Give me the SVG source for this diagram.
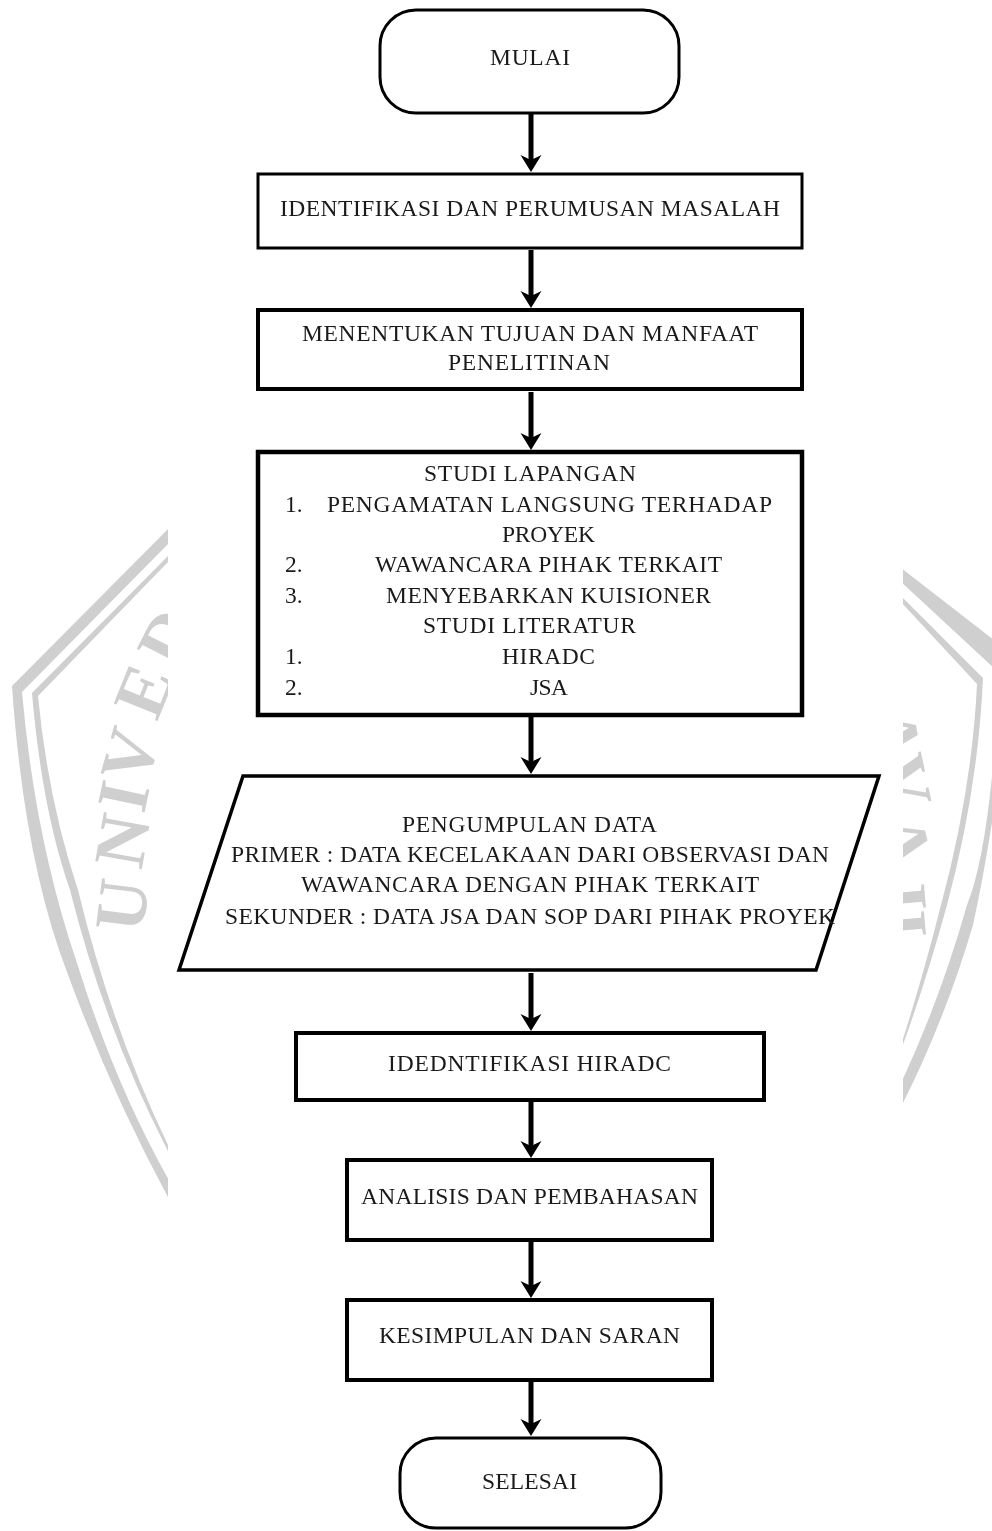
<svg xmlns="http://www.w3.org/2000/svg" width="992" height="1531" viewBox="0 0 992 1531">
<style>
.t{font-family:"Liberation Serif","Times New Roman",serif;font-size:23.5px;fill:#1a1a1a;filter:blur(.3px)}
.n{fill:#fff;stroke:#000}
.w{fill:#cfcfcf;stroke:none}
.wl{font-family:"Liberation Serif",serif;font-size:72px;font-weight:bold;fill:#cfcfcf;text-anchor:middle}
.c{fill:none;stroke:#000;stroke-width:5}
</style>
<defs>
<marker id="a" markerUnits="userSpaceOnUse" markerWidth="20" markerHeight="24" refX="10" refY="12" orient="auto">
<path d="M0 1.5 L17 12 L0 22.5 L5 12 Z" fill="#000"/>
</marker>
<clipPath id="cl"><rect x="0" y="0" width="168" height="1531"/></clipPath>
<clipPath id="cr"><rect x="903" y="0" width="89" height="1531"/></clipPath>
</defs>
<rect width="992" height="1531" fill="#fff"/>
<g id="watermark-left" clip-path="url(#cl)">
<path class="w" d="M170 527 L12 686 Q24 860 67 972 Q110 1090 170 1201 L170 1182 Q115 1085 77 963 Q35 840 22 692 L170 542 Z"/>
<path class="w" d="M170 554 L32 693 Q42 810 70 890 Q105 1030 170 1155 L170 1149 Q112 1030 78 890 Q48 800 38 696 L170 560 Z"/>
<text class="wl" transform="translate(146 908) rotate(-83)">U</text>
<text class="wl" transform="translate(146 845) rotate(-80)">N</text>
<text class="wl" transform="translate(147 801) rotate(-78)">I</text>
<text class="wl" transform="translate(153 762) rotate(-74)">V</text>
<text class="wl" transform="translate(166 700) rotate(-68)">E</text>
<text class="wl" transform="translate(190 648) rotate(-63)">D</text>
</g>
<g id="watermark-right" clip-path="url(#cr)">
<path class="w" d="M901 568 L994 640 L994 668 L901 582 Z"/>
<path class="w" d="M901 596 L983 678 Q978 790 947 905 Q925 985 901 1050 L901 1045 Q922 980 941 905 Q972 790 977 684 L901 602 Z"/>
<path class="w" d="M994 755 Q985 860 967 905 Q940 1000 901 1083 L901 1107 Q945 1020 973 925 Q985 870 994 809 Z"/>
<text class="wl" transform="translate(870 738) rotate(80)">A</text>
<text class="wl" transform="translate(880 786) rotate(78)">V</text>
<text class="wl" transform="translate(880 847) rotate(76)">A</text>
<text class="wl" transform="translate(878 900) rotate(85)">I</text>
<text class="wl" transform="translate(878 927) rotate(85)">I</text>
</g>
<g id="connectors">
<line class="c" x1="531" y1="114" x2="531" y2="165" marker-end="url(#a)"/>
<line class="c" x1="531" y1="250" x2="531" y2="301" marker-end="url(#a)"/>
<line class="c" x1="531" y1="392" x2="531" y2="443" marker-end="url(#a)"/>
<line class="c" x1="531" y1="717" x2="531" y2="767" marker-end="url(#a)"/>
<line class="c" x1="531" y1="973" x2="531" y2="1024" marker-end="url(#a)"/>
<line class="c" x1="531" y1="1102" x2="531" y2="1151" marker-end="url(#a)"/>
<line class="c" x1="531" y1="1242" x2="531" y2="1291" marker-end="url(#a)"/>
<line class="c" x1="531" y1="1382" x2="531" y2="1429" marker-end="url(#a)"/>
</g>
<g id="mulai"><rect class="n" x="380" y="10" width="299" height="103" rx="36" stroke-width="3"/>
<text class="t" x="490" y="65" textLength="80">MULAI</text></g>
<g id="identifikasi"><rect class="n" x="258" y="174" width="544" height="74" stroke-width="3"/>
<text class="t" x="280" y="216" textLength="500">IDENTIFIKASI DAN PERUMUSAN MASALAH</text></g>
<g id="tujuan"><rect class="n" x="258" y="310" width="544" height="79" stroke-width="4"/>
<text class="t" x="302" y="341" textLength="456">MENENTUKAN TUJUAN DAN MANFAAT</text>
<text class="t" x="448" y="370" textLength="162">PENELITINAN</text></g>
<g id="studi"><rect class="n" x="258" y="452" width="544" height="263" stroke-width="4.5"/>
<text class="t" x="424" y="481" textLength="212">STUDI LAPANGAN</text>
<text class="t" x="285" y="512">1.</text>
<text class="t" x="327" y="512" textLength="445">PENGAMATAN LANGSUNG TERHADAP</text>
<text class="t" x="502" y="542" textLength="93">PROYEK</text>
<text class="t" x="285" y="572">2.</text>
<text class="t" x="375" y="572" textLength="347">WAWANCARA PIHAK TERKAIT</text>
<text class="t" x="285" y="603">3.</text>
<text class="t" x="386" y="603" textLength="325">MENYEBARKAN KUISIONER</text>
<text class="t" x="423" y="633" textLength="213">STUDI LITERATUR</text>
<text class="t" x="285" y="664">1.</text>
<text class="t" x="502" y="664" textLength="93">HIRADC</text>
<text class="t" x="285" y="695">2.</text>
<text class="t" x="530" y="695" textLength="38">JSA</text></g>
<g id="pengumpulan"><polygon class="n" points="243,776 879,776 816,970 179,970" stroke-width="3.5"/>
<text class="t" x="402" y="832" textLength="255">PENGUMPULAN DATA</text>
<text class="t" x="231" y="862" textLength="598">PRIMER : DATA KECELAKAAN DARI OBSERVASI DAN</text>
<text class="t" x="301" y="892" textLength="458">WAWANCARA DENGAN PIHAK TERKAIT</text>
<text class="t" x="225" y="924" textLength="610">SEKUNDER : DATA JSA DAN SOP DARI PIHAK PROYEK</text></g>
<g id="hiradc"><rect class="n" x="296" y="1033" width="468" height="67" stroke-width="4"/>
<text class="t" x="388" y="1071" textLength="283">IDEDNTIFIKASI HIRADC</text></g>
<g id="analisis"><rect class="n" x="347" y="1160" width="365" height="80" stroke-width="4"/>
<text class="t" x="361" y="1204" textLength="337">ANALISIS DAN PEMBAHASAN</text></g>
<g id="kesimpulan"><rect class="n" x="347" y="1300" width="365" height="80" stroke-width="4"/>
<text class="t" x="379" y="1343" textLength="301">KESIMPULAN DAN SARAN</text></g>
<g id="selesai"><rect class="n" x="400" y="1438" width="261" height="90" rx="36" stroke-width="3"/>
<text class="t" x="482" y="1489" textLength="95">SELESAI</text></g>
</svg>
